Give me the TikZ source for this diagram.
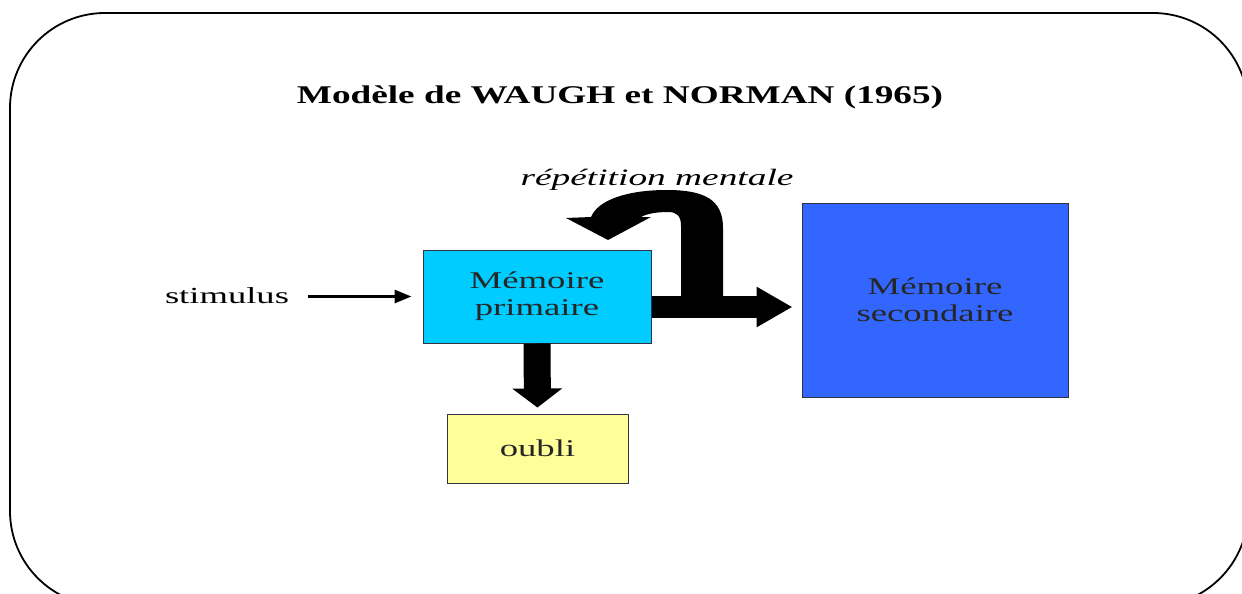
\documentclass[tikz,border=0pt]{standalone}
\usepackage{fontspec}
\usepackage{graphicx}
\setmainfont{Liberation Serif}
\usetikzlibrary{arrows.meta}
\definecolor{primcol}{HTML}{00CCFF}
\definecolor{seccol}{HTML}{3366FF}
\definecolor{oublicol}{HTML}{FFFF99}
\definecolor{edgecol}{HTML}{333344}
% horizontally widened lettering
\newcommand{\widetxt}[2][1.53]{\scalebox{#1}[1]{#2}}
\tikzset{
  memobox/.style={draw=edgecol, line width=1pt, align=center, inner sep=0pt,
    font=\fontsize{24}{27}\selectfont, text=black!85},
  label/.style={inner sep=0pt, font=\fontsize{23}{26}\selectfont},
  fatarrow/.style={line width=#1, draw=black},
}
\begin{document}
\begin{tikzpicture}[x=1pt,y=-1pt]
\useasboundingbox (0,0) rectangle (1242,594);
% outer rounded frame, running past the right and lower edges
\begin{scope}
\clip (0,0) rectangle (1242,594);
\draw[line width=1.8pt, rounded corners=95pt] (10,13) rectangle (1248,606);
\end{scope}

% title
\node[inner sep=0pt, anchor=base, font=\fontsize{25.5}{28}\selectfont\bfseries] (title) at (620,103) {\widetxt[1.46]{Modèle de WAUGH et NORMAN (1965)}};

% boxes
\node[memobox, fill=primcol, minimum width=228pt, minimum height=93pt] (prim) at (537,296.5) {\widetxt{Mémoire}\\\widetxt{primaire}};
\node[memobox, fill=seccol, minimum width=266pt, minimum height=194pt] (sec) at (935,300) {\widetxt{Mémoire}\\\widetxt{secondaire}};
\node[memobox, fill=oublicol, minimum width=181pt, minimum height=69pt] (oubli) at (537.5,448.5) {\widetxt{oubli}};

% labels
\node[label, anchor=base] (stim) at (227,303) {\widetxt[1.59]{stimulus}};
\node[label, anchor=base, font=\fontsize{23.5}{27}\selectfont\itshape] (rep) at (657,185) {\widetxt[1.59]{répétition mentale}};

% stimulus arrow
\draw[line width=3pt, -{Triangle[width=13pt,length=17pt]}, shorten <=19pt, shorten >=11pt]
  (stim.east |- prim.west) -- (prim.west);

% forgetting arrow
\draw[fatarrow=27pt, -{Triangle[width=49pt,length=19pt]}, shorten >=6pt]
  (prim.south) -- (oubli.north);

% transfer arrow to secondary memory
\coordinate (tstart) at ([yshift=-10.5pt]prim.east);
\draw[fatarrow=22pt, -{Triangle[width=38pt,length=36pt]}, shorten >=9pt]
  (tstart) -- (sec.west |- tstart);

% rehearsal loop
\fill[black] (723,300) -- (723,228)
  .. controls (723,200) and (705,190) .. (667,190)
  .. controls (627,190) and (598,200) .. (591,217)
  -- (566,218) -- (608,240) -- (651,217) -- (641,217)
  .. controls (648,213) and (660,212) .. (668,212)
  .. controls (677,212) and (681,216) .. (681,226)
  -- (681,300) -- cycle;
\end{tikzpicture}
\end{document}
